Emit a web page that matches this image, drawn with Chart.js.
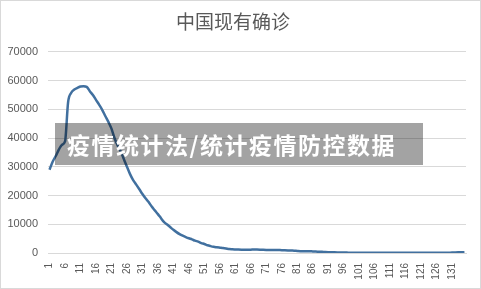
<!DOCTYPE html>
<html>
<head>
<meta charset="utf-8">
<script src="https://cdn.jsdelivr.net/npm/chart.js@4"></script>
<style>
  html, body { margin: 0; padding: 0; background: #fff; }
  #wrap { position: relative; width: 481px; height: 289px; }
  #frame {
    position: absolute; left: 0; top: 0; width: 481px; height: 289px;
    box-sizing: border-box; border: 1px solid #d9d9d9; pointer-events: none;
  }
  #banner {
    position: absolute; left: 55px; top: 123px; width: 368px; height: 42px;
    background: rgba(0, 0, 0, 0.36); color: #fff;
    font-family: "Noto Sans CJK SC", sans-serif; font-weight: 700;
    font-size: 23px; letter-spacing: 1.5px; line-height: 42px;
    padding-left: 12px; box-sizing: border-box; white-space: nowrap;
  }
</style>
</head>
<body>
<div id="wrap">
  <canvas id="chart" width="481" height="289"></canvas>
  <div id="banner">疫情统计法/统计疫情防控数据</div>
  <div id="frame"></div>
</div>
<script>
// current confirmed cases, one value per day (day 1 .. 135)
const currentCases = [
  28985, 31774, 33738, 35982, 37626, 38800, 52526, 55748, 56873, 57416,
  57934, 58016, 57805, 56303, 54965, 53284, 51606, 49824, 47672, 45604,
  43258, 39919, 37414, 35329, 32652, 30004, 27433, 25352, 23784, 22177,
  20533, 19016, 17721, 16145, 14831, 13526, 12094, 10734, 9898, 8976,
  8056, 7263, 6569, 6013, 5549, 5120, 4735, 4287, 3947, 3460,
  3128, 2691, 2396, 2161, 2004, 1863, 1727, 1562, 1376, 1299,
  1242, 1190, 1160, 1141, 1138, 1156, 1220, 1200, 1170, 1120,
  1080, 1060, 1080, 1060, 1030, 1000, 960, 910, 850, 820,
  720, 650, 650, 620, 600, 550, 500, 450, 400, 340,
  290, 260, 230, 200, 170, 150, 140, 120, 110, 100,
  95, 90, 85, 80, 80, 75, 75, 70, 70, 70,
  65, 65, 65, 65, 63, 63, 60, 60, 58, 58,
  58, 58, 60, 60, 58, 58, 60, 65, 80, 110,
  140, 180, 220, 260, 300
];
const dayLabels = currentCases.map((v, i) => String(i + 1));
const yTicks = [0, 10000, 20000, 30000, 40000, 50000, 60000, 70000];

const ctx = document.getElementById("chart").getContext("2d");

const caseChart = new Chart(ctx, {
  type: "line",
  data: {
    labels: dayLabels,
    datasets: [
      {
        label: "现有确诊",
        data: currentCases,
        borderColor: "#41709f",
        borderWidth: 2.5,
        pointRadius: 0,
        cubicInterpolationMode: "monotone",
        fill: false,
      },
    ],
  },
  options: {
    responsive: false,
    animation: false,
    layout: {
      padding: { left: 0, right: 15, top: 0, bottom: 0 },
    },
    plugins: {
      legend: { display: false },
      tooltip: { enabled: false },
      title: {
        display: true,
        text: "中国现有确诊",
        color: "#595959",
        font: { family: "'Noto Sans CJK SC', sans-serif", size: 19, weight: "normal" },
        padding: { top: 10, bottom: 19 },
      },
    },
    scales: {
      x: {
        offset: true,
        grid: { display: false },
        border: { display: true, color: "#d9d9d9" },
        ticks: {
          autoSkip: false,
          minRotation: 90,
          maxRotation: 90,
          padding: 2,
          color: "#595959",
          font: { family: "'Liberation Sans', sans-serif", size: 10 },
          callback: function (value, index) {
            return index % 5 === 0 ? dayLabels[index] : "";
          },
        },
        afterFit: function (scale) {
          scale.height = 36;
        },
      },
      y: {
        min: 0,
        max: 70000,
        afterBuildTicks: function (scale) {
          scale.ticks = yTicks.map((v) => ({ value: v }));
        },
        grid: { color: "#d9d9d9", drawTicks: false },
        border: { display: false },
        ticks: {
          padding: 10,
          color: "#595959",
          font: { family: "'Liberation Sans', sans-serif", size: 11 },
          callback: function (value) {
            return String(value);
          },
        },
        afterFit: function (scale) {
          scale.width = 48;
        },
      },
    },
  },
});
</script>
</body>
</html>
